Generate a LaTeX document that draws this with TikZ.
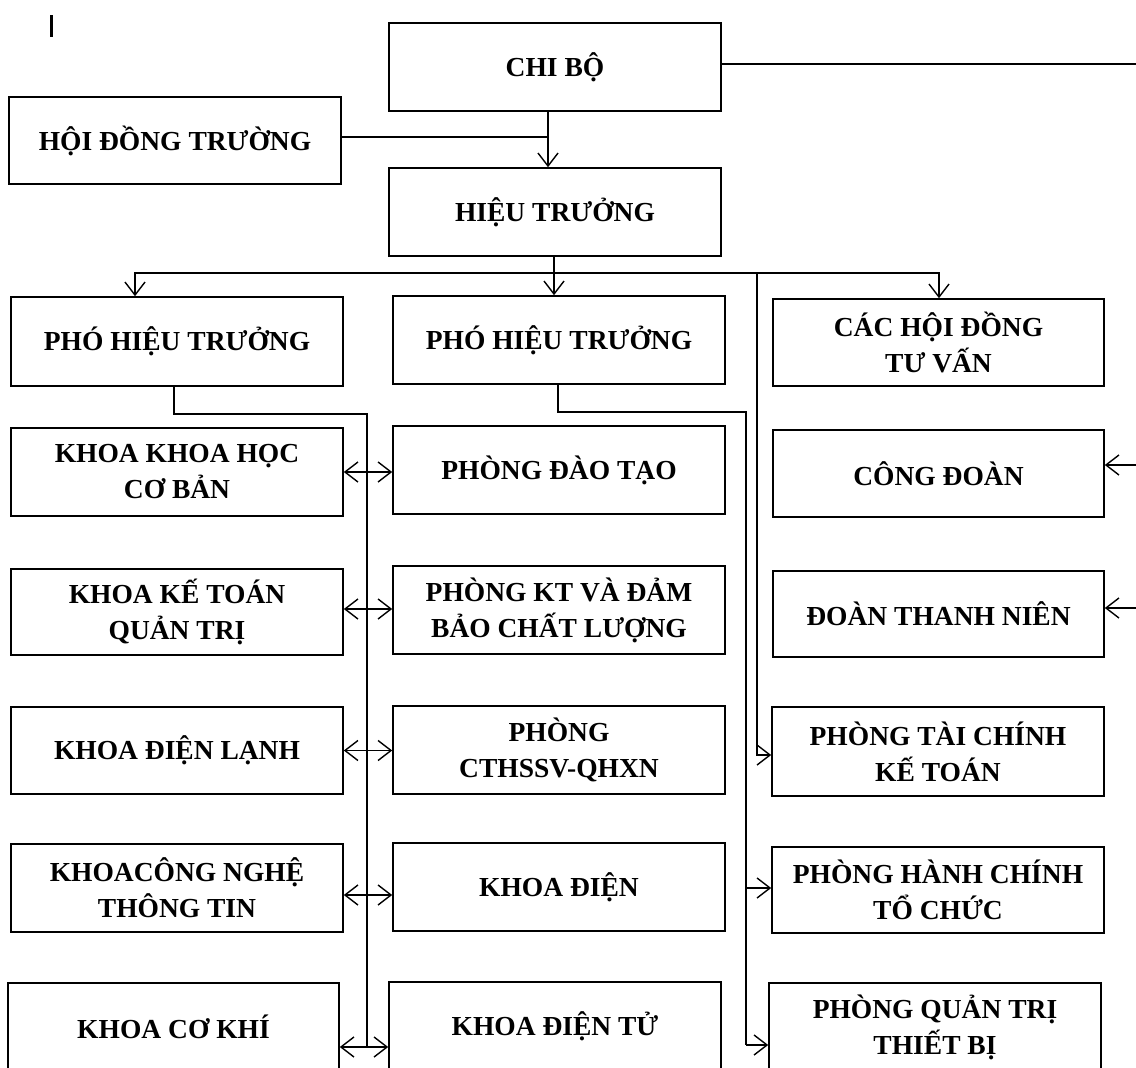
\documentclass[tikz,border=0pt]{standalone}
\usepackage{fontspec}
\newfontfamily\labfont{Liberation Serif}
\usetikzlibrary{arrows.meta}
\begin{document}
\begin{tikzpicture}[x=1pt,y=-1pt,line width=1.4pt,
  box/.style={draw,line width=1.6pt,minimum width=332pt,minimum height=88pt,inner sep=0pt,align=center,
    font=\labfont\bfseries\fontsize{27.5pt}{36pt}\selectfont},
  arr/.style={-{Straight Barb[length=13pt,width=20pt]}},
  biarr/.style={{Straight Barb[length=13pt,width=20pt]}-{Straight Barb[length=13pt,width=20pt]}}]
\useasboundingbox (0,0) rectangle (1136,1068);
% top
\node[box] (chibo) at (555,67) {CHI BỘ};
\node[box,minimum height=87pt] (hdt) at (175,140.5) {HỘI ĐỒNG TRƯỜNG};
\node[box] (ht) at (555,212) {HIỆU TRƯỞNG};
% row 1
\node[box,minimum height=89pt] (pht1) at (177,341.5) {PHÓ HIỆU TRƯỞNG};
\node[box] (pht2) at (559,340) {PHÓ HIỆU TRƯỞNG};
\node[box,minimum width=331pt,minimum height=87pt] (hdtv) at (938.5,342.5) {CÁC HỘI ĐỒNG\\TƯ VẤN};
% row 2
\node[box] (kkh) at (177,472) {KHOA KHOA HỌC\\CƠ BẢN};
\node[box] (pdt) at (559,470) {PHÒNG ĐÀO TẠO};
\node[box,minimum width=331pt,minimum height=87pt] (cd) at (938.5,473.5) {CÔNG ĐOÀN};
% row 3
\node[box,minimum height=86pt] (kkt) at (177,612) {KHOA KẾ TOÁN\\QUẢN TRỊ};
\node[box] (pkt) at (559,610) {PHÒNG KT VÀ ĐẢM\\BẢO CHẤT LƯỢNG};
\node[box,minimum width=331pt,minimum height=86pt] (dtn) at (938.5,614) {ĐOÀN THANH NIÊN};
% row 4
\node[box,minimum height=87pt] (kdl) at (177,750.5) {KHOA ĐIỆN LẠNH};
\node[box] (cth) at (559,750) {PHÒNG\\CTHSSV-QHXN};
\node[box,minimum height=89pt] (ptc) at (938,751.5) {PHÒNG TÀI CHÍNH\\KẾ TOÁN};
% row 5
\node[box] (cntt) at (177,888) {KHOACÔNG NGHỆ\\THÔNG TIN};
\node[box] (kd) at (559,887) {KHOA ĐIỆN};
\node[box,minimum height=86pt] (phc) at (938,890) {PHÒNG HÀNH CHÍNH\\TỔ CHỨC};
% row 6
\node[box,minimum width=331pt] (kck) at (173.5,1027) {KHOA CƠ KHÍ};
\node[box] (kdt) at (555,1026) {KHOA ĐIỆN TỬ};
\node[box] (pqt) at (935,1027) {PHÒNG QUẢN TRỊ\\THIẾT BỊ};
% mark
\draw[line width=3pt] (51.5,15) -- (51.5,37);
% top connectors
\coordinate (redge1) at (1137,64);
\draw (chibo.east |- redge1) -- (redge1);
\coordinate (j1) at (548,137);
\draw[arr] (chibo.south -| j1) -- (ht.north -| j1);
\draw (hdt.east |- j1) -- (j1);
% bus
\coordinate (bus) at (554,273);
\coordinate (busL) at (135,273);
\coordinate (busR) at (939,273);
\coordinate (v3) at (757,273);
\coordinate (v3b) at (757,755);
\draw (ht.south -| bus) -- (bus);
\draw[arr] (bus) -- (pht2.north -| bus);
\draw[arr] (bus) -- (busL) -- (pht1.north -| busL);
\draw[arr] (bus) -- (busR) -- (hdtv.north -| busR);
\draw[arr] (v3) -- (v3b) -- (ptc.west |- v3b);
% PHT1 branch
\coordinate (a1) at (174,414);
\coordinate (a2) at (367,414);
\coordinate (a3) at (367,1047);
\draw (pht1.south -| a1) -- (a1) -- (a2) -- (a3);
\draw[biarr] (kkh.east) -- (kkh.east -| pdt.west);
\draw[biarr] ([yshift=3pt]kkt.east) -- ([yshift=3pt]kkt.east -| pkt.west);
\draw[biarr] (kdl.east) -- (kdl.east -| cth.west);
\draw[biarr] ([yshift=-7pt]cntt.east) -- ([yshift=-7pt]cntt.east -| kd.west);
\draw[biarr] (kck.east |- a3) -- (kdt.west |- a3);
% PHT2 branch
\coordinate (b1) at (558,412);
\coordinate (b2) at (746,412);
\coordinate (b3) at (746,1045);
\coordinate (b4) at (746,888);
\draw (pht2.south -| b1) -- (b1) -- (b2) -- (b3);
\draw[arr] (b4) -- (phc.west |- b4);
\draw[arr] (b3) -- (pqt.west |- b3);
% right incoming
\coordinate (r2) at (1137,465);
\coordinate (r3) at (1137,608);
\draw[arr] (r2) -- (cd.east |- r2);
\draw[arr] (r3) -- (dtn.east |- r3);
\end{tikzpicture}
\end{document}
